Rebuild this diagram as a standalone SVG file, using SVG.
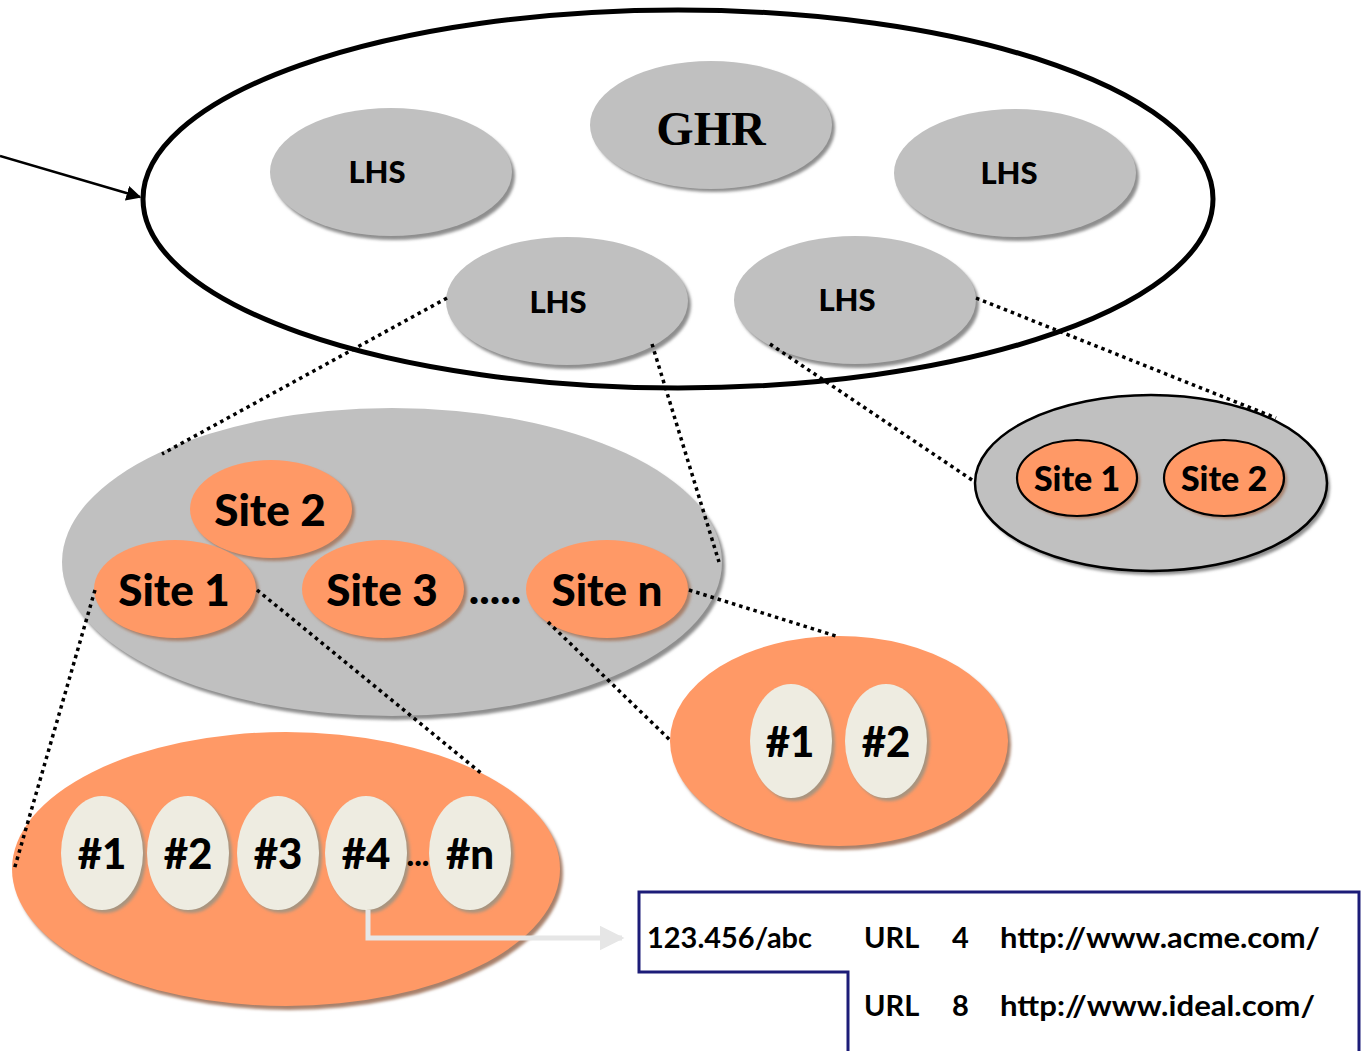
<svg xmlns="http://www.w3.org/2000/svg" width="1365" height="1051" viewBox="0 0 1365 1051">
  <defs>
    <filter id="soft" x="-10%" y="-10%" width="120%" height="120%">
      <feGaussianBlur stdDeviation="1.5"/>
    </filter>
    <marker id="blackHead" viewBox="0 0 10 10" refX="9" refY="5" markerWidth="6" markerHeight="6" orient="auto" markerUnits="strokeWidth">
      <path d="M0,0 L10,5 L0,10 z" fill="#000"/>
    </marker>
    <marker id="paleHead" viewBox="0 0 10 10" refX="9" refY="5" markerWidth="5" markerHeight="5" orient="auto" markerUnits="strokeWidth">
      <path d="M0,0 L10,5 L0,10 z" fill="#e6e6e6"/>
    </marker>
  </defs>
  <style>
    .gray { fill: #c0c0c0; }
    .grayShadow { fill: #8e8e8e; filter: url(#soft); }
    .orange { fill: #ff9966; }
    .orangeShadow { fill: #a8806a; filter: url(#soft); }
    .cream { fill: #eeece1; }
    .creamShadow { fill: #a8947f; filter: url(#soft); }
    .lbl { font-family: Lato, "Open Sans", "Liberation Sans", sans-serif; font-weight: 900; fill: #000; text-anchor: middle; }
    .lhs { font-size: 31px; }
    .site { font-size: 44px; }
    .siteSmall { font-size: 34px; }
    .num { font-size: 42px; }
    .tbl { font-family: Lato, "Open Sans", "Liberation Sans", sans-serif; font-weight: bold; font-size: 29px; fill: #000; }
    .dotted { fill: none; stroke: #000; stroke-width: 3.5; stroke-dasharray: 3.5 4; }
  </style>

  <rect width="1365" height="1051" fill="#ffffff"/>

  <!-- global registry boundary -->
  <g id="registry">
    <ellipse cx="678" cy="199" rx="535" ry="189" fill="none" stroke="#000" stroke-width="5"/>
  </g>

  <g id="ghr">
    <ellipse class="grayShadow" cx="714" cy="128" rx="121" ry="64"/>
    <ellipse class="gray" cx="711" cy="125" rx="121" ry="64"/>
    <text x="711" y="145" text-anchor="middle" font-family="'Liberation Serif', 'Times New Roman', serif" font-weight="bold" font-size="48px" fill="#000">GHR</text>
  </g>

  <g id="lhs-top-left">
    <ellipse class="grayShadow" cx="394" cy="176" rx="121" ry="64"/>
    <ellipse class="gray" cx="391" cy="172" rx="121" ry="64"/>
    <text class="lbl lhs" x="377" y="183">LHS</text>
  </g>

  <g id="lhs-top-right">
    <ellipse class="grayShadow" cx="1018" cy="177" rx="121" ry="64"/>
    <ellipse class="gray" cx="1015" cy="173" rx="121" ry="64"/>
    <text class="lbl lhs" x="1009" y="184">LHS</text>
  </g>

  <g id="lhs-bottom-left">
    <ellipse class="grayShadow" cx="570" cy="305" rx="121" ry="64"/>
    <ellipse class="gray" cx="567" cy="301" rx="121" ry="64"/>
    <text class="lbl lhs" x="558" y="313">LHS</text>
  </g>

  <g id="lhs-bottom-right">
    <ellipse class="grayShadow" cx="858" cy="304" rx="121" ry="64"/>
    <ellipse class="gray" cx="855" cy="300" rx="121" ry="64"/>
    <text class="lbl lhs" x="847" y="311">LHS</text>
  </g>

  <g id="sites-left">
    <ellipse class="grayShadow" cx="395" cy="566" rx="330" ry="154"/>
    <ellipse class="gray" cx="392" cy="562" rx="330" ry="154"/>
  </g>

  <g id="site-2">
    <ellipse class="orangeShadow" cx="274" cy="512" rx="81" ry="49"/>
    <ellipse class="orange" cx="271" cy="509" rx="81" ry="49"/>
    <text class="lbl site" x="270" y="526">Site 2</text>
  </g>
  <g id="site-1">
    <ellipse class="orangeShadow" cx="178" cy="592" rx="81" ry="49"/>
    <ellipse class="orange" cx="175" cy="589" rx="81" ry="49"/>
    <text class="lbl site" x="174" y="606">Site 1</text>
  </g>
  <g id="site-3">
    <ellipse class="orangeShadow" cx="386" cy="592" rx="81" ry="49"/>
    <ellipse class="orange" cx="383" cy="589" rx="81" ry="49"/>
    <text class="lbl site" x="382" y="606">Site 3</text>
  </g>
  <text class="lbl site" x="495" y="604">.....</text>
  <g id="site-n">
    <ellipse class="orangeShadow" cx="610" cy="592" rx="81" ry="49"/>
    <ellipse class="orange" cx="607" cy="589" rx="81" ry="49"/>
    <text class="lbl site" x="607" y="606">Site n</text>
  </g>

  <g id="sites-right">
    <ellipse class="grayShadow" cx="1154" cy="487" rx="176" ry="88"/>
    <ellipse class="gray" cx="1151" cy="483" rx="176" ry="88" stroke="#000" stroke-width="2.5"/>
  </g>
  <g id="site-1-small">
    <ellipse class="orangeShadow" cx="1080" cy="481" rx="60" ry="38"/>
    <ellipse class="orange" cx="1077" cy="478" rx="60" ry="38" stroke="#000" stroke-width="2.2"/>
    <text class="lbl siteSmall" x="1077" y="491">Site 1</text>
  </g>
  <g id="site-2-small">
    <ellipse class="orangeShadow" cx="1227" cy="481" rx="60" ry="38"/>
    <ellipse class="orange" cx="1224" cy="478" rx="60" ry="38" stroke="#000" stroke-width="2.2"/>
    <text class="lbl siteSmall" x="1224" y="491">Site 2</text>
  </g>

  <g id="handles-site-n">
    <ellipse class="orangeShadow" cx="842" cy="745" rx="169" ry="105"/>
    <ellipse class="orange" cx="839" cy="741" rx="169" ry="105"/>
  </g>
  <g id="handle-n1">
    <ellipse class="creamShadow" cx="794" cy="744" rx="41" ry="57"/>
    <ellipse class="cream" cx="791" cy="741" rx="41" ry="57"/>
    <text class="lbl num" x="790" y="757">#1</text>
  </g>
  <g id="handle-n2">
    <ellipse class="creamShadow" cx="889" cy="744" rx="41" ry="57"/>
    <ellipse class="cream" cx="886" cy="741" rx="41" ry="57"/>
    <text class="lbl num" x="886" y="757">#2</text>
  </g>

  <g id="handles-site-1">
    <ellipse class="orangeShadow" cx="289" cy="873" rx="274" ry="137"/>
    <ellipse class="orange" cx="286" cy="869" rx="274" ry="137"/>
  </g>
  <g id="handle-1">
    <ellipse class="creamShadow" cx="105" cy="856" rx="41" ry="57"/>
    <ellipse class="cream" cx="102" cy="853" rx="41" ry="57"/>
    <text class="lbl num" x="102" y="869">#1</text>
  </g>
  <g id="handle-2">
    <ellipse class="creamShadow" cx="191" cy="856" rx="41" ry="57"/>
    <ellipse class="cream" cx="188" cy="853" rx="41" ry="57"/>
    <text class="lbl num" x="188" y="869">#2</text>
  </g>
  <g id="handle-3">
    <ellipse class="creamShadow" cx="281" cy="856" rx="41" ry="57"/>
    <ellipse class="cream" cx="278" cy="853" rx="41" ry="57"/>
    <text class="lbl num" x="278" y="869">#3</text>
  </g>
  <g id="handle-4">
    <ellipse class="creamShadow" cx="369" cy="856" rx="41" ry="57"/>
    <ellipse class="cream" cx="366" cy="853" rx="41" ry="57"/>
    <text class="lbl num" x="366" y="869">#4</text>
  </g>
  <text class="lbl" x="418" y="866" font-size="32px">...</text>
  <g id="handle-n">
    <ellipse class="creamShadow" cx="473" cy="856" rx="41" ry="57"/>
    <ellipse class="cream" cx="470" cy="853" rx="41" ry="57"/>
    <text class="lbl num" x="470" y="869">#n</text>
  </g>

  <!-- dotted links between levels, drawn over the nodes -->
  <g id="connectors">
    <line class="dotted" x1="447" y1="298" x2="162" y2="454"/>
    <line class="dotted" x1="652" y1="344" x2="719" y2="562"/>
    <line class="dotted" x1="770" y1="344" x2="975" y2="482"/>
    <line class="dotted" x1="976" y1="298" x2="1276" y2="418"/>
    <line class="dotted" x1="95" y1="590" x2="14" y2="870"/>
    <line class="dotted" x1="257" y1="590" x2="481" y2="773"/>
    <line class="dotted" x1="548" y1="622" x2="671" y2="741"/>
    <line class="dotted" x1="689" y1="590" x2="836" y2="636"/>
    <line x1="0" y1="156" x2="140" y2="197" stroke="#000" stroke-width="2.5" marker-end="url(#blackHead)"/>
    <!-- resolution of handle #4 -->
    <polyline points="368,910 368,938 622,938" fill="none" stroke="#e6e6e6" stroke-width="5" marker-end="url(#paleHead)"/>
  </g>

  <g id="handle-record">
    <polyline points="848,1051 848,972 639,972 639,892 1359,892 1359,1051" fill="none" stroke="#1c1c78" stroke-width="3"/>
    <text class="tbl" x="647" y="948" textLength="165" lengthAdjust="spacingAndGlyphs">123.456/abc</text>
    <text class="tbl" x="864" y="948">URL</text>
    <text class="tbl" x="952" y="948">4</text>
    <text class="tbl" x="1000" y="948" textLength="320" lengthAdjust="spacingAndGlyphs">http://www.acme.com/</text>
    <text class="tbl" x="864" y="1016">URL</text>
    <text class="tbl" x="952" y="1016">8</text>
    <text class="tbl" x="1000" y="1016" textLength="315" lengthAdjust="spacingAndGlyphs">http://www.ideal.com/</text>
  </g>
</svg>
